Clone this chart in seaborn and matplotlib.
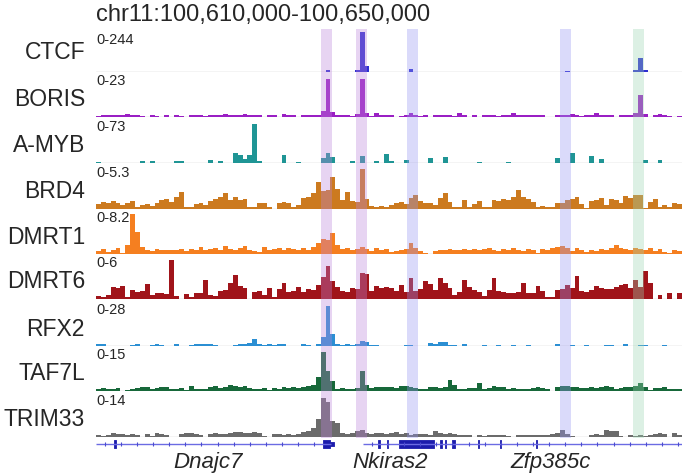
import numpy as np
import pandas as pd
import matplotlib
matplotlib.use("Agg")
import matplotlib.pyplot as plt
import seaborn as sns

sns.set_style("white")
plt.rcParams["font.family"] = ["Liberation Sans", "DejaVu Sans"]

# region shown: chr11:100,610,000-100,650,000 -> 0..40 kb, 120 bins of 1/3 kb
region_title = "chr11:100,610,000-100,650,000"
region_kb = 40
n_bins = 120

track_names = ["CTCF", "BORIS", "A-MYB", "BRD4", "DMRT1", "DMRT6", "RFX2", "TAF7L", "TRIM33"]
track_ranges = ["0-244", "0-23", "0-73", "0-5.3", "0-8.2", "0-6", "0-28", "0-15", "0-14"]
track_colors = ["#2f2fd0", "#9a1fc4", "#1f9595", "#cc7a1f", "#f57f20",
                "#a0141a", "#2b8fd3", "#17683a", "#6b6b6b"]

# signal per bin, in % of the track's data range
ctcf = [0, 0, 0, 0, 0, 0, 0, 0, 0, 0, 0, 0, 0, 0, 0, 0, 0, 0, 0, 0,
        0, 0, 0, 0, 0, 0, 0, 0, 0, 0, 0, 0, 0, 0, 0, 0, 0, 0, 0, 0,
        0, 0, 0, 0, 0, 0, 0, 5, 0, 0, 0, 0, 0, 6, 100, 14, 0, 0, 0, 0,
        0, 0, 0, 0, 8, 0, 0, 0, 0, 0, 0, 0, 0, 0, 0, 0, 0, 0, 0, 0,
        0, 0, 0, 0, 0, 0, 0, 0, 0, 0, 0, 0, 0, 0, 0, 0, 3, 0, 0, 0,
        0, 0, 0, 0, 0, 0, 0, 0, 0, 0, 4, 35, 5, 0, 0, 0, 0, 0, 0, 0]
boris = [3, 5, 4, 6, 4, 5, 8, 6, 4, 3, 0, 4, 3, 0, 4, 0, 4, 3, 0, 4,
         5, 4, 3, 5, 6, 4, 7, 5, 6, 4, 7, 5, 6, 4, 0, 5, 4, 0, 8, 5,
         4, 0, 5, 4, 6, 5, 15, 96, 12, 6, 4, 5, 3, 8, 96, 10, 3, 10, 4, 5,
         4, 0, 3, 5, 10, 6, 3, 5, 0, 4, 5, 5, 4, 3, 10, 5, 0, 4, 0, 5,
         4, 5, 3, 5, 4, 10, 5, 4, 5, 6, 4, 5, 0, 0, 5, 6, 5, 8, 5, 3,
         5, 6, 10, 6, 4, 5, 0, 4, 5, 6, 10, 54, 8, 0, 4, 7, 6, 3, 0, 3]
amyb = [2, 0, 0, 0, 0, 0, 0, 0, 0, 5, 0, 4, 0, 0, 0, 0, 4, 6, 0, 0,
        0, 0, 0, 8, 0, 4, 0, 0, 24, 20, 10, 20, 98, 5, 0, 0, 0, 0, 20, 0,
        0, 3, 0, 0, 0, 0, 12, 25, 15, 0, 0, 0, 4, 0, 18, 0, 0, 6, 0, 22,
        5, 0, 0, 8, 0, 0, 0, 0, 12, 0, 0, 15, 0, 0, 0, 0, 0, 0, 2, 0,
        0, 0, 0, 0, 2, 0, 0, 0, 0, 0, 0, 0, 0, 0, 12, 0, 0, 25, 0, 0,
        0, 18, 0, 9, 0, 0, 0, 0, 0, 0, 0, 0, 8, 0, 0, 7, 0, 0, 0, 0]
brd4 = [12, 18, 14, 20, 15, 10, 16, 20, 5, 10, 12, 8, 15, 22, 25, 18, 30, 42, 6, 5,
        12, 14, 10, 20, 25, 30, 40, 22, 30, 22, 25, 5, 4, 14, 16, 4, 0, 15, 18, 16,
        6, 10, 28, 30, 40, 68, 45, 48, 80, 50, 22, 42, 20, 18, 100, 25, 8, 5, 8, 6,
        10, 15, 18, 12, 27, 35, 20, 15, 14, 10, 27, 40, 18, 5, 5, 22, 5, 12, 20, 4,
        5, 22, 20, 25, 22, 30, 48, 30, 25, 18, 5, 8, 6, 4, 14, 16, 22, 25, 30, 12,
        3, 20, 22, 28, 10, 25, 22, 15, 32, 28, 36, 36, 3, 18, 24, 5, 10, 4, 14, 12]
dmrt1 = [8, 12, 6, 10, 14, 3, 22, 100, 55, 18, 10, 8, 12, 10, 9, 11, 10, 12, 8, 13,
         10, 18, 9, 12, 14, 10, 20, 12, 11, 16, 20, 10, 8, 4, 18, 10, 12, 14, 11, 15,
         12, 10, 14, 11, 18, 28, 38, 36, 52, 22, 12, 14, 10, 12, 18, 12, 8, 14, 10, 12,
         6, 8, 10, 12, 27, 14, 8, 3, 0, 8, 10, 9, 12, 10, 11, 12, 10, 13, 10, 12,
         14, 10, 8, 12, 10, 15, 11, 8, 12, 10, 3, 12, 10, 14, 18, 20, 16, 8, 15, 10,
         6, 10, 8, 12, 9, 14, 22, 14, 12, 10, 14, 12, 11, 14, 8, 12, 6, 3, 10, 8]
dmrt6 = [8, 5, 10, 30, 28, 32, 4, 22, 18, 20, 38, 10, 16, 14, 12, 98, 8, 0, 12, 4,
         14, 16, 48, 10, 8, 20, 22, 40, 60, 32, 28, 0, 18, 20, 10, 28, 4, 26, 40, 18,
         20, 30, 18, 25, 22, 35, 55, 83, 45, 30, 20, 18, 28, 25, 65, 63, 20, 32, 28, 30,
         28, 20, 36, 18, 52, 20, 24, 44, 38, 22, 52, 40, 28, 10, 18, 48, 30, 22, 18, 8,
         22, 52, 20, 18, 14, 16, 18, 40, 15, 16, 32, 20, 6, 4, 22, 24, 35, 28, 57, 20,
         18, 22, 32, 28, 26, 25, 30, 36, 38, 28, 48, 30, 71, 40, 0, 10, 0, 14, 0, 15]
rfx2 = [4, 5, 0, 0, 0, 0, 0, 3, 4, 0, 0, 3, 4, 3, 0, 0, 6, 0, 0, 3,
        4, 5, 4, 5, 3, 0, 0, 0, 3, 4, 5, 8, 18, 6, 3, 4, 3, 5, 4, 0,
        0, 0, 5, 3, 0, 5, 22, 100, 30, 5, 3, 4, 3, 5, 12, 10, 3, 2, 0, 0,
        0, 0, 0, 2, 2, 0, 0, 0, 8, 6, 10, 9, 3, 2, 0, 4, 0, 0, 0, 2,
        0, 0, 3, 0, 0, 2, 0, 0, 2, 0, 0, 0, 0, 0, 4, 0, 0, 3, 0, 0,
        3, 0, 0, 0, 2, 2, 0, 0, 4, 0, 0, 3, 2, 0, 0, 0, 2, 0, 0, 0]
taf7l = [6, 7, 5, 6, 7, 0, 3, 6, 8, 10, 9, 5, 8, 10, 9, 4, 6, 8, 3, 12,
         5, 4, 6, 10, 12, 8, 10, 14, 12, 10, 12, 8, 4, 6, 8, 3, 8, 6, 9, 7,
         9, 8, 10, 12, 15, 35, 98, 50, 25, 6, 8, 6, 5, 8, 50, 15, 8, 10, 9, 10,
         10, 8, 12, 12, 10, 8, 6, 5, 9, 10, 8, 11, 27, 14, 6, 6, 8, 7, 19, 6,
         8, 12, 10, 9, 6, 7, 6, 5, 6, 8, 9, 8, 4, 0, 10, 12, 12, 10, 9, 8,
         7, 9, 8, 10, 12, 11, 5, 8, 10, 10, 12, 19, 9, 3, 8, 8, 9, 4, 5, 5]
trim33 = [4, 3, 5, 10, 7, 8, 6, 7, 6, 0, 8, 3, 9, 8, 6, 0, 0, 8, 9, 10,
          7, 4, 0, 8, 9, 7, 8, 10, 12, 12, 10, 11, 12, 9, 3, 0, 7, 8, 6, 8,
          5, 8, 12, 14, 22, 45, 98, 88, 40, 36, 10, 8, 9, 14, 18, 10, 8, 10, 9, 8,
          10, 12, 8, 9, 6, 7, 7, 8, 6, 16, 10, 8, 9, 8, 5, 4, 5, 0, 4, 3,
          5, 6, 5, 5, 3, 0, 5, 6, 6, 5, 6, 6, 5, 8, 10, 18, 8, 3, 0, 0,
          0, 4, 7, 5, 17, 16, 14, 3, 0, 4, 3, 4, 2, 6, 8, 9, 8, 0, 10, 6]
signals = [ctcf, boris, amyb, brd4, dmrt1, dmrt6, rfx2, taf7l, trim33]

# highlighted regions (kb) and their tints
band_starts = [15.34, 17.75, 21.23, 31.67, 36.66]
band_ends = [16.09, 18.48, 21.98, 32.42, 37.39]
band_colors = ["#bd84da", "#bd84da", "#9595f1", "#9595f1", "#9bd4b2"]

# gene models (kb): introns as lines, exons as blocks
gene_spans = [(0.0, 16.05), (18.23, 40.0)]
exon_starts = [1.25, 15.5, 16.0, 19.28, 19.86, 20.7, 23.5, 23.82, 24.3, 26.05, 27.57, 30.03]
exon_ends = [1.35, 16.0, 16.25, 19.38, 19.96, 23.1, 23.6, 23.92, 24.48, 26.15, 27.67, 30.13]
exon_thick = [1, 1, 0, 1, 1, 1, 1, 1, 1, 1, 1, 1]
gene_labels = ["Dnajc7", "Nkiras2", "Zfp385c"]
gene_label_kb = [7.65, 20.1, 31.05]

W, H = 685, 476
fig = plt.figure(figsize=(W / 100, H / 100), dpi=100)


def fx(px):
    return px / W


def fy(py):
    return 1 - py / H


left_px, right_px = 96, 682
track_base = [72, 117, 163, 209, 254, 299, 346, 391, 437]
track_h = 40
bin_w = region_kb / n_bins
centers = bin_w * (np.arange(n_bins) + 0.5)

fig.text(fx(96), fy(21), region_title, fontsize=17, ha="left", va="baseline")

for i, name in enumerate(track_names):
    base = track_base[i]
    ax = fig.add_axes([fx(left_px), fy(base), fx(right_px) - fx(left_px), track_h / H])
    ax.axhline(0, color="#c8c8c8", lw=1, zorder=0)
    df = pd.DataFrame({"pos": centers, "signal": np.asarray(signals[i], dtype=float)})
    sns.histplot(data=df, x="pos", weights="signal", bins=n_bins, binrange=(0, region_kb),
                 element="step", fill=True, color=track_colors[i], alpha=1,
                 linewidth=0, ax=ax)
    ax.set_xlim(0, region_kb)
    ax.set_ylim(0, 100)
    ax.axis("off")
    lab_off = 32 if i == 0 else 36
    fig.text(fx(96), fy(base - lab_off), track_ranges[i], fontsize=10.5,
             ha="left", va="center")
    name_off = 19.5 if i == 0 else 17
    fig.text(fx(85), fy(base - name_off), name, fontsize=16.5, ha="right", va="center")

# gene track
gax = fig.add_axes([fx(left_px), fy(452), fx(right_px) - fx(left_px), 16 / H])
gax.set_xlim(0, region_kb)
gax.set_ylim(-8, 8)
gax.axis("off")
for s, e in gene_spans:
    gax.hlines(0, s, e, color="#6b6be3", lw=1)
    ticks = np.arange(s + 0.6, e - 0.2, 1.1)
    gax.plot(ticks, np.zeros_like(ticks), ls="none", marker="|", ms=3, mew=0.8,
             color="#4b4bd0")
for s, e, t in zip(exon_starts, exon_ends, exon_thick):
    h = 3.6 if t else 1.8
    gax.broken_barh([(s, e - s)], (-h, 2 * h), facecolor="#1c1cac", edgecolor="#1c1cac", lw=0.6)
for lab, x in zip(gene_labels, gene_label_kb):
    gax.text(x, -8, lab, fontsize=16, style="italic", ha="center", va="top")

# highlight bands on top
bax = fig.add_axes([fx(left_px), fy(438), fx(right_px) - fx(left_px), (438 - 29) / H])
bax.set_xlim(0, region_kb)
bax.patch.set_alpha(0)
bax.axis("off")
for s, e, c in zip(band_starts, band_ends, band_colors):
    bax.axvspan(s, e, color=c, alpha=0.35, lw=0)

fig.savefig("out.png", dpi=100)
